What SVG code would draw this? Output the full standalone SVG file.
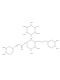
<svg xmlns="http://www.w3.org/2000/svg" width="60" height="80" viewBox="0 0 60 80">
<style>
line,polyline,polygon{stroke:#888;stroke-width:0.3;fill:none}
text{font-family:"Liberation Sans",Arial,sans-serif;font-size:2px;fill:#888}
</style>
<rect width="60" height="80" fill="#fff"/>
<!-- rhamnose ring -->
<polygon points="27,27.5 31,25.5 35,27.5 35,32.5 31,34.5 27,32.5"/>
<line x1="31" y1="25.5" x2="31" y2="23.5"/><text x="29.9" y="23">OH</text>
<line x1="27" y1="27.5" x2="25" y2="26.5"/><text x="22.2" y="27">HO</text>
<line x1="35" y1="27.5" x2="37" y2="26.5"/><text x="37" y="27.2">O</text>
<line x1="35" y1="32.5" x2="37" y2="33.5"/><text x="37" y="34.4">OH</text>
<line x1="27" y1="32.5" x2="25" y2="33.5"/><text x="22.2" y="34.8">HO</text>
<line x1="31" y1="34.5" x2="31" y2="37"/><text x="30.3" y="38.8">O</text>
<!-- glucose ring -->
<polygon points="27,42 31,40 35,42 35,47 31,49 27,47"/>
<line x1="31" y1="40" x2="31" y2="39.2"/>
<line x1="35" y1="42" x2="37.5" y2="41"/><text x="37.4" y="41.8">O</text>
<line x1="31" y1="49" x2="31" y2="51.5"/><text x="29.9" y="53.5">OH</text>
<line x1="35" y1="47" x2="37" y2="48"/><text x="37" y="49.2">OH</text>
<line x1="27" y1="42" x2="25.4" y2="43"/><text x="23.8" y="44.4">O</text>
<!-- ester -->
<line x1="23.8" y1="44.2" x2="21.5" y2="45.5"/>
<line x1="21.5" y1="45.5" x2="21.5" y2="48.5"/><line x1="22.1" y1="45.5" x2="22.1" y2="48.5"/><text x="21" y="50.4">O</text>
<line x1="21.5" y1="45.5" x2="18.5" y2="44.2"/>
<line x1="18.5" y1="44.2" x2="15.5" y2="46"/><line x1="18.5" y1="44.8" x2="15.8" y2="46.5"/>
<line x1="15.5" y1="46" x2="13" y2="48.5"/>
<!-- left ring -->
<polygon points="13,48.5 13,52.5 9.5,54.5 6,52.5 6,48.5 9.5,46.5"/>
<line x1="6" y1="48.5" x2="4.5" y2="47.5"/><text x="1.8" y="48">HO</text>
<line x1="6" y1="52.5" x2="4.5" y2="53.5"/><text x="1.8" y="55">HO</text>
<!-- glycoside chain -->
<line x1="39.4" y1="41" x2="42" y2="42.2"/><line x1="42" y1="42.2" x2="45" y2="40.8"/>
<line x1="45" y1="40.8" x2="48" y2="42"/>
<!-- right ring -->
<polygon points="48,42 51.5,40 55,42 55,46 51.5,48 48,46"/>
<line x1="55" y1="42" x2="56.5" y2="41"/><text x="56" y="40.8">OH</text>
<line x1="55" y1="46" x2="56.5" y2="47"/><text x="56" y="48.8">OH</text>
</svg>
